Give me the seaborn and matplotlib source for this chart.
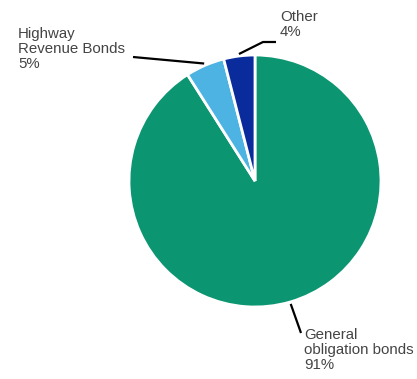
import numpy as np
import matplotlib
matplotlib.use("Agg")
import matplotlib.pyplot as plt
import seaborn as sns

categories = ["General\nobligation bonds", "Highway\nRevenue Bonds", "Other"]
values = [91, 5, 4]
pct_labels = ["91%", "5%", "4%"]
colors = ["#0b9571", "#4cb3e3", "#0a2b9c"]

sns.set_theme(style="white")
plt.rcParams['font.family'] = ['Liberation Sans', 'DejaVu Sans']

W, H = 417, 379
fig = plt.figure(figsize=(W / 100, H / 100), dpi=100)
ax = fig.add_axes([0, 0, 1, 1])

cx, cy, r = 255, H - 181, 126
wedges, _ = ax.pie(values, colors=colors, startangle=90, counterclock=False,
                   center=(cx, cy), radius=r, frame=True,
                   wedgeprops=dict(edgecolor="white", linewidth=2))
ax.set_xlim(0, W)
ax.set_ylim(0, H)
ax.set_aspect("equal")
ax.axis("off")

def edge_point(w, rad):
    a = np.deg2rad((w.theta1 + w.theta2) / 2)
    return cx + rad * np.cos(a), cy + rad * np.sin(a)

txt_color = "#444444"
fs = 10.8
ls = 1.08

# General obligation bonds
p = edge_point(wedges[0], r + 2)
ax.plot([p[0], 301], [p[1], H - 333], color="black", lw=1.6, solid_capstyle="butt")
ax.text(304, H - 328, categories[0] + "\n" + pct_labels[0], ha="left", va="top",
        fontsize=fs, color=txt_color, linespacing=ls)

# Highway revenue bonds
p = edge_point(wedges[1], r + 2)
ax.plot([133, p[0]], [H - 57, p[1]], color="black", lw=1.6, solid_capstyle="butt")
ax.text(18, H - 27, categories[1] + "\n" + pct_labels[1], ha="left", va="top",
        fontsize=fs, color=txt_color, linespacing=ls)

# Other
p = edge_point(wedges[2], r + 2)
ax.plot([p[0], 263, 276], [p[1], H - 42, H - 42], color="black", lw=1.6, solid_capstyle="butt")
ax.text(280, H - 10, categories[2] + "\n" + pct_labels[2], ha="left", va="top",
        fontsize=fs, color=txt_color, linespacing=ls)

fig.savefig("out.png", dpi=100, facecolor="white")
